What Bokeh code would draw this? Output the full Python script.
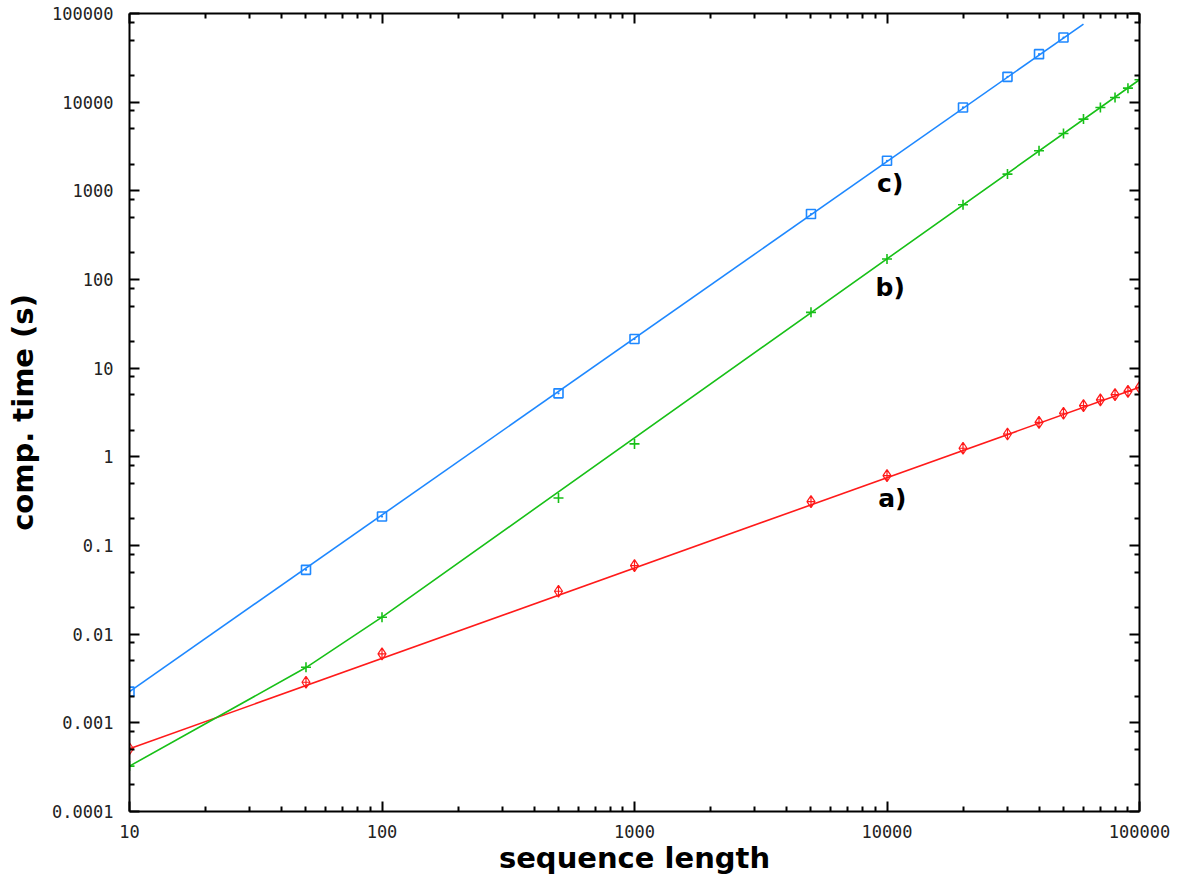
from bokeh.plotting import figure
from bokeh.models import LogAxis, FixedTicker, Range1d, CustomJSTickFormatter
from bokeh.core.properties import value
from bokeh.embed import file_html
from bokeh.resources import INLINE

# ---------------- data ----------------
seq_len = [10, 50, 100, 500, 1000, 5000, 10000, 20000, 30000, 40000,
           50000, 60000, 70000, 80000, 90000, 100000]
time_a = [0.00051, 0.00287, 0.0060, 0.0305, 0.0593, 0.313, 0.614, 1.25,
          1.81, 2.45, 3.10, 3.78, 4.38, 5.02, 5.48, 6.08]
time_b = [0.000325, 0.00424, 0.0155, 0.344, 1.40, 42.6, 170, 697,
          1545, 2830, 4440, 6440, 8710, 11300, 14400, 17900]
seq_len_c = [10, 50, 100, 500, 1000, 5000, 10000, 20000, 30000, 40000, 50000]
time_c = [0.00225, 0.0531, 0.212, 5.2, 21.3, 547, 2184, 8710, 19300, 34800, 53600]

fit_a_x = [10, 100000]
fit_a_y = [0.00051, 6.08]
fit_b_x = [10, 50, 100, 100000]
fit_b_y = [0.000325, 0.0042, 0.0156, 17900]
fit_c_x = [10, 60000]
fit_c_y = [0.00225, 76000]

curve_labels = ["a)", "b)", "c)"]
curve_label_x = [10500, 10300, 10300]
curve_label_y = [0.338, 80.7, 1200]

x_major = [10, 100, 1000, 10000, 100000]
x_tick_labels = ["10", "100", "1000", "10000", "100000"]
y_major = [0.0001, 0.001, 0.01, 0.1, 1, 10, 100, 1000, 10000, 100000]
y_tick_labels = ["0.0001", "0.001", "0.01", "0.1", "1", "10", "100",
                 "1000", "10000", "100000"]
x_minor_mult = [2, 3, 4, 5, 6, 7, 8, 9]
y_minor_mult = [2, 5, 8]

RED = "#ff1a1a"
GREEN = "#18c018"
BLUE = "#1e88ff"

x_minor = [m * d for d in x_major[:-1] for m in x_minor_mult]
y_minor = [m * d for d in y_major[:-1] for m in y_minor_mult]

p = figure(x_axis_type="log", y_axis_type="log",
           x_range=Range1d(10, 100000), y_range=Range1d(0.0001, 100000),
           frame_width=1010, frame_height=798,
           min_border_left=129, min_border_right=39,
           min_border_top=13, min_border_bottom=59,
           output_backend="svg", toolbar_location=None,
           background_fill_color="white", border_fill_color="white")
p.outline_line_color = None
p.xgrid.visible = False
p.ygrid.visible = False

xt = FixedTicker(ticks=x_major, minor_ticks=x_minor)
yt = FixedTicker(ticks=y_major, minor_ticks=y_minor)

def style_axis(ax, ticker, show_labels):
    ax.ticker = ticker
    ax.axis_line_color = "black"
    ax.axis_line_width = 2
    ax.major_tick_line_color = "black"
    ax.major_tick_line_width = 2
    ax.minor_tick_line_color = "black"
    ax.minor_tick_line_width = 2
    ax.major_tick_in = 10
    ax.major_tick_out = 0
    ax.minor_tick_in = 5
    ax.minor_tick_out = 0
    ax.major_label_text_font = "DejaVu Sans Mono"
    ax.major_label_text_font_size = "17px"
    ax.major_label_text_color = "#222222"
    if not show_labels:
        ax.formatter = CustomJSTickFormatter(code="return '';")
        ax.major_label_standoff = 0
        ax.major_label_text_font_size = "0px"

xa = p.xaxis[0]
ya = p.yaxis[0]
style_axis(xa, xt, True)
style_axis(ya, yt, True)
xa.major_label_overrides = dict(zip(x_major, x_tick_labels))
ya.major_label_overrides = dict(zip(y_major, y_tick_labels))
xa.major_label_standoff = 13
ya.major_label_standoff = 16

xa.axis_label = "sequence length"
ya.axis_label = "comp. time (s)"
for ax in (xa, ya):
    ax.axis_label_text_font = "DejaVu Sans"
    ax.axis_label_text_font_style = "bold"
    ax.axis_label_text_font_size = "29px"
    ax.axis_label_text_color = "black"
xa.axis_label_standoff = 0
ya.axis_label_standoff = 9

top = LogAxis()
right = LogAxis()
style_axis(top, xt, False)
style_axis(right, yt, False)
p.add_layout(top, "above")
p.add_layout(right, "right")

# fitted lines
p.line(fit_a_x, fit_a_y, line_color=RED, line_width=1.6)
p.line(fit_b_x, fit_b_y, line_color=GREEN, line_width=1.6)
p.line(fit_c_x, fit_c_y, line_color=BLUE, line_width=1.6)

# data points
p.scatter(seq_len, time_a, marker="diamond_cross", size=12, fill_color=None,
          line_color=RED, line_width=1.2)
p.scatter(seq_len, time_b, marker="cross", size=10,
          line_color=GREEN, line_width=1.6)
p.scatter(seq_len_c, time_c, marker="square_dot", size=9, fill_color=None,
          line_color=BLUE, line_width=1.6)

p.text(x=curve_label_x, y=curve_label_y, text=curve_labels,
       text_font=value("DejaVu Sans"), text_font_style="bold",
       text_font_size="25px", text_color="black",
       text_align="center", text_baseline="middle")

open("out.html", "w").write(file_html(p, INLINE))
